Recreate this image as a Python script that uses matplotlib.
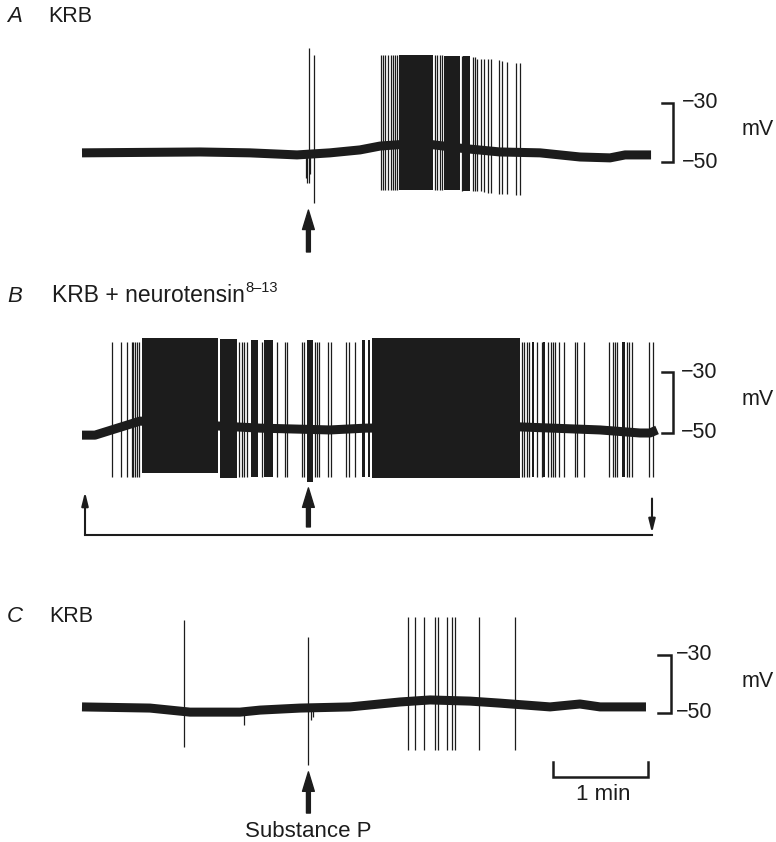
import matplotlib
matplotlib.use('Agg')
import matplotlib.pyplot as plt

plt.rcParams['font.family'] = ['Liberation Sans', 'DejaVu Sans']

INK = '#1c1c1c'

# time in s from start of each trace, potential in mV

# A: KRB
a_base_t = [0, 74.5, 106.1, 135.8, 156.6, 175.6, 188.2, 213.5, 238.7, 264.0, 289.3, 314.5, 333.5, 343.0, 359.4]
a_base_v = [-46.9, -46.6, -46.9, -47.6, -46.9, -45.9, -44.6, -43.6, -45.3, -46.6, -46.9, -48.3, -48.6, -47.6, -47.6]
a_blocks = [(200.4, 221.5, -13.7, -59.5), (228.7, 238.7, -13.9, -59.5), (240.8, 245.1, -14.2, -59.8)]
a_spike_t = [141.5, 142.2, 143.4, 144.2, 146.5,
             188.7, 189.9, 191.3, 193.5, 195.0, 196.3, 197.7, 198.8, 223.0, 224.4, 226.1, 227.2,
             239.8, 247.1, 248.2, 249.6, 251.8, 253.9, 256.6, 258.1, 263.6, 265.1, 268.2, 274.1, 276.7]
a_spike_top = [-47.0, -47.0, -11.4, -47.0, -13.7,
               -13.7, -13.7, -13.7, -13.7, -13.7, -13.7, -13.7, -13.7, -13.7, -13.7, -13.7, -13.7,
               -14.2, -14.5, -14.5, -15.0, -15.0, -15.0, -15.0, -15.2, -15.5, -15.8, -16.0, -16.4, -16.4]
a_spike_bot = [-55.5, -57.1, -57.1, -54.0, -63.9,
               -59.5, -59.5, -59.5, -59.5, -59.5, -59.5, -59.5, -59.5, -59.5, -59.5, -59.5, -59.5,
               -59.8, -59.8, -59.8, -60.0, -60.0, -60.2, -60.5, -60.5, -60.8, -60.8, -61.0, -61.2, -61.2]

# B: KRB + neurotensin 8-13
b_base_t = [0, 8.2, 36.6, 74.5, 112.4, 156.6, 179.4, 276.6, 327.2, 352.4, 358.7, 363.2]
b_base_v = [-50.7, -50.7, -46.1, -47.4, -48.4, -49.0, -48.4, -48.0, -49.0, -50.0, -50.0, -49.0]
b_blocks = [(37.7, 86.0, -18.9, -63.1), (87.0, 98.0, -19.2, -64.8), (106.5, 111.4, -19.5, -64.4),
            (115.0, 120.4, -19.5, -64.4), (142.3, 146.1, -19.5, -66.0), (176.7, 178.7, -19.5, -64.4),
            (180.6, 181.9, -19.5, -64.4), (183.0, 276.6, -18.9, -64.8), (284.0, 285.5, -20.2, -64.4),
            (291.4, 292.4, -20.2, -64.4), (340.9, 343.0, -20.2, -64.4)]
b_spike_t = [18.8, 24.4, 28.6, 31.4, 32.4, 33.5, 34.9, 36.2, 99.4, 100.9, 102.3, 104.0, 113.5, 123.0,
             128.2, 129.3, 138.8, 140.2, 147.2, 148.6, 149.9, 155.6, 157.1, 166.6, 168.8, 172.4,
             277.7, 279.2, 280.9, 282.5, 287.6, 290.3, 294.5, 296.0, 297.7, 298.7, 301.3, 304.4,
             311.4, 312.8, 317.1, 333.0, 335.2, 336.6, 338.1, 344.0, 345.7, 347.2, 358.3, 360.8]
b_spike_top = -20.2
b_spike_bot = -64.4

# C: KRB (wash)
c_base_t = [0, 42.9, 68.2, 99.8, 112.4, 137.7, 169.3, 200.8, 219.8, 245.1, 264.0, 295.6, 314.5, 327.2, 356.2]
c_base_v = [-47.9, -48.3, -49.7, -49.7, -49.0, -48.3, -47.9, -46.2, -45.5, -45.9, -46.6, -47.9, -46.9, -47.9, -47.9]
c_spike_t = [64.4, 102.3, 142.7, 144.5, 146.0, 206.1, 210.3, 216.0, 222.9, 225.0, 230.3, 233.5, 235.6, 250.9, 273.5]
c_spike_top = [-17.9, -49.5, -23.8, -47.0, -47.0, -16.9, -16.9, -16.9, -16.9, -16.9, -16.9, -16.9, -16.9, -16.9, -16.9]
c_spike_bot = [-61.7, -54.1, -67.9, -52.5, -51.5, -62.8, -62.8, -62.8, -62.8, -62.8, -62.8, -62.8, -62.8, -62.8, -62.8]

subst_p_t = 143.0
perfusion = (1.9, 360.0)
time_bar = (297.5, 357.5)

W, H = 776, 842
PX_PER_S = 95 / 60

fig = plt.figure(figsize=(W / 100, H / 100), dpi=100)


def panel(top_px, bottom_px, y50_px, px_per_mv):
    ax = fig.add_axes([0, 1 - bottom_px / H, 1, (bottom_px - top_px) / H])
    ax.set_xlim(-82 / PX_PER_S, (W - 82) / PX_PER_S)
    ax.set_ylim(-50 - (bottom_px - y50_px) / px_per_mv, -50 + (y50_px - top_px) / px_per_mv)
    ax.axis('off')
    return ax


def trace(ax, base_t, base_v, blocks, spike_t, spike_top, spike_bot):
    for t0, t1, hi, lo in blocks:
        ax.fill_between([t0, t1], lo, hi, color=INK, lw=0)
    ax.vlines(spike_t, spike_bot, spike_top, color=INK, lw=0.9)
    ax.plot(base_t, base_v, color=INK, lw=6.5, solid_capstyle='butt', solid_joinstyle='round')


def mv_bar(ax, t_tick, t_vert, t_lab):
    ax.plot([t_tick, t_vert, t_vert, t_tick], [-30, -30, -50, -50], color=INK, lw=1.8,
            solid_joinstyle='miter')
    ax.text(t_lab, -30, '\u221230', fontsize=15.5, va='center', ha='left', color=INK)
    ax.text(t_lab, -50, '\u221250', fontsize=15.5, va='center', ha='left', color=INK)
    ax.text(416.8, -39, 'mV', fontsize=15.5, va='center', ha='left', color=INK)


def stim_arrow(ax, t, v_tail, v_tip):
    ax.annotate('', xy=(t, v_tip), xytext=(t, v_tail),
                arrowprops=dict(width=2.8, headwidth=8.5, headlength=14, color=INK, shrink=0))


def thin_arrow(ax, t, v_tail, v_tip):
    ax.annotate('', xy=(t, v_tip), xytext=(t, v_tail),
                arrowprops=dict(arrowstyle='-|>,head_width=0.2,head_length=0.8', lw=1.5,
                                color=INK, shrinkA=0, shrinkB=0))


def label(x, y, s, **kw):
    fig.text(x / W, 1 - y / H, s, color=INK, va='baseline', **kw)


ax_a = panel(0, 270, 162, 2.95)
trace(ax_a, a_base_t, a_base_v, a_blocks, a_spike_t, a_spike_top, a_spike_bot)
mv_bar(ax_a, 366.3, 373.3, 379.0)
stim_arrow(ax_a, subst_p_t, -80.5, -66.3)

ax_b = panel(270, 560, 433, 3.05)
trace(ax_b, b_base_t, b_base_v, b_blocks, b_spike_t, b_spike_top, b_spike_bot)
mv_bar(ax_b, 366.3, 373.3, 378.0)
stim_arrow(ax_b, subst_p_t, -80.8, -68.0)
thin_arrow(ax_b, perfusion[0], -83.4, -69.3)
thin_arrow(ax_b, perfusion[1], -71.5, -82.8)
ax_b.plot(perfusion, [-83.4, -83.4], color=INK, lw=1.5, solid_capstyle='projecting')

ax_c = panel(560, 842, 713, 2.9)
trace(ax_c, c_base_t, c_base_v, [], c_spike_t, c_spike_top, c_spike_bot)
mv_bar(ax_c, 363.8, 372.0, 375.0)
stim_arrow(ax_c, subst_p_t, -84.5, -70.3)
ax_c.plot([time_bar[0], time_bar[0], time_bar[1], time_bar[1]], [-66.9, -72.1, -72.1, -66.9],
          color=INK, lw=1.8, solid_joinstyle='miter')

label(7, 22, 'A', fontsize=16, style='italic')
label(48, 22, 'KRB', fontsize=15.5)
label(7, 302, 'B', fontsize=16, style='italic')
label(52, 302, 'KRB + neurotensin', fontsize=16.5)
label(245, 292, '8\u201313', fontsize=10.5)
label(7, 622, 'C', fontsize=16, style='italic')
label(49, 622, 'KRB', fontsize=15.5)
label(603, 800, '1 min', fontsize=16, ha='center')
label(308, 837, 'Substance P', fontsize=16, ha='center')

fig.savefig('out.png', dpi=100, facecolor='white')
